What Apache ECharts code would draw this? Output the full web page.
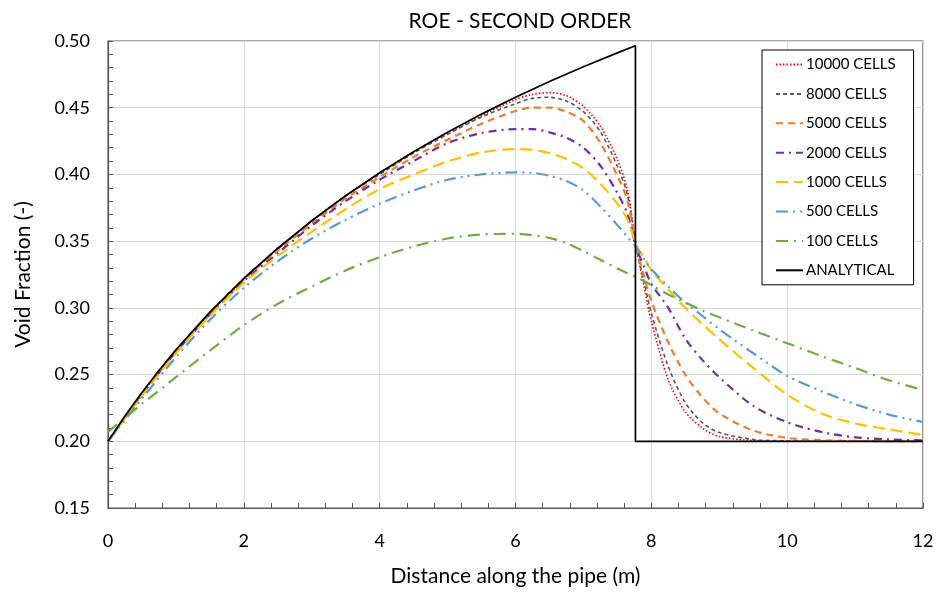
<!DOCTYPE html>
<html>
<head>
<meta charset="utf-8">
<script src="https://cdn.jsdelivr.net/npm/echarts@6/dist/echarts.min.js"></script>
<style>
html,body{margin:0;padding:0;background:#fff;}
#chart{width:939px;height:592px;}
</style>
</head>
<body>
<div id="chart"></div>
<script>
// Shared x positions (m) for the numerical solutions
var xNum = [0, 0.5, 1, 1.5, 2, 2.5, 3, 3.5, 4, 4.5, 5, 5.5, 6, 6.25, 6.5, 6.75, 7, 7.25, 7.5, 7.65, 7.78, 7.9, 8, 8.25, 8.5, 8.75, 9, 9.5, 10, 10.5, 11, 11.5, 12];

var cells10000 = [0.200, 0.236, 0.268, 0.296, 0.322, 0.344, 0.365, 0.384, 0.401, 0.417, 0.431, 0.444, 0.456, 0.460, 0.4613, 0.459, 0.451, 0.436, 0.411, 0.388, 0.345, 0.314, 0.290, 0.246, 0.222, 0.210, 0.2036, 0.2005, 0.200, 0.200, 0.200, 0.200, 0.200];
var cells8000  = [0.200, 0.236, 0.268, 0.296, 0.322, 0.344, 0.365, 0.384, 0.400, 0.416, 0.430, 0.443, 0.453, 0.457, 0.4578, 0.455, 0.447, 0.432, 0.406, 0.384, 0.345, 0.318, 0.296, 0.256, 0.229, 0.214, 0.2066, 0.2014, 0.2003, 0.200, 0.200, 0.200, 0.200];
var cells5000  = [0.200, 0.235, 0.267, 0.295, 0.321, 0.343, 0.363, 0.382, 0.398, 0.413, 0.426, 0.438, 0.4475, 0.450, 0.450, 0.447, 0.440, 0.4235, 0.399, 0.380, 0.345, 0.322, 0.305, 0.274, 0.250, 0.233, 0.221, 0.208, 0.2025, 0.2008, 0.2003, 0.200, 0.200];
var cells2000  = [0.200, 0.235, 0.267, 0.295, 0.320, 0.341, 0.3616, 0.380, 0.396, 0.410, 0.4235, 0.431, 0.434, 0.434, 0.4315, 0.4275, 0.420, 0.4065, 0.386, 0.370, 0.345, 0.330, 0.318, 0.300, 0.277, 0.261, 0.248, 0.2265, 0.2143, 0.207, 0.203, 0.2014, 0.2007];
var cells1000  = [0.200, 0.234, 0.266, 0.294, 0.3188, 0.339, 0.357, 0.374, 0.389, 0.400, 0.4097, 0.4165, 0.419, 0.4185, 0.416, 0.4115, 0.4045, 0.393, 0.378, 0.366, 0.347, 0.337, 0.328, 0.3138, 0.300, 0.288, 0.2764, 0.255, 0.235, 0.221, 0.2133, 0.209, 0.2046];
var cells500   = [0.200, 0.232, 0.263, 0.291, 0.315, 0.335, 0.352, 0.366, 0.378, 0.388, 0.396, 0.400, 0.4015, 0.4012, 0.399, 0.395, 0.388, 0.376, 0.362, 0.353, 0.345, 0.336, 0.329, 0.316, 0.304, 0.294, 0.284, 0.266, 0.249, 0.2377, 0.2278, 0.220, 0.2145];
var cells100   = [0.207, 0.228, 0.248, 0.268, 0.287, 0.303, 0.316, 0.328, 0.338, 0.346, 0.352, 0.355, 0.3555, 0.3545, 0.3525, 0.3485, 0.3425, 0.336, 0.3295, 0.326, 0.3228, 0.320, 0.317, 0.310, 0.304, 0.298, 0.293, 0.283, 0.2735, 0.264, 0.255, 0.2457, 0.2385];

// Analytical solution
var xAna = [0, 0.25, 0.5, 0.75, 1, 1.5, 2, 2.5, 3, 3.5, 4, 4.5, 5, 5.5, 6, 6.5, 7, 7.5, 7.766, 7.766, 12];
var yAna = [0.200, 0.2189, 0.2366, 0.2531, 0.2685, 0.2968, 0.3220, 0.3447, 0.3653, 0.3840, 0.4012, 0.4170, 0.4316, 0.4452, 0.4578, 0.4696, 0.4807, 0.4911, 0.4964, 0.200, 0.200];

var seriesNames = ['10000 CELLS', '8000 CELLS', '5000 CELLS', '2000 CELLS', '1000 CELLS', '500 CELLS', '100 CELLS', 'ANALYTICAL'];
var xTicks = [0, 2, 4, 6, 8, 10, 12];
var yTicks = [0.15, 0.20, 0.25, 0.30, 0.35, 0.40, 0.45, 0.50];

function pairs(xs, ys) { return xs.map(function (x, i) { return [x, ys[i]]; }); }

var styles = [
  { color: '#FF0000', width: 1.6, type: [1.5, 2] },
  { color: '#595959', width: 1.6, type: [4, 3] },
  { color: '#ED7D31', width: 2.2, type: [7, 5] },
  { color: '#7030A0', width: 2.2, type: [8, 5, 2, 5] },
  { color: '#FFC000', width: 2.2, type: [12, 6] },
  { color: '#5B9BD5', width: 2.2, type: [12, 5, 2, 5, 2, 5] },
  { color: '#70AD47', width: 2.2, type: [12, 6, 2, 6] },
  { color: '#000000', width: 1.7, type: 'solid' }
];
var dataSets = [cells10000, cells8000, cells5000, cells2000, cells1000, cells500, cells100];

var series = [];
for (var i = 0; i < 7; i++) {
  series.push({
    name: seriesNames[i], type: 'line', data: pairs(xNum, dataSets[i]),
    showSymbol: false, symbol: 'none', smooth: 0.3,
    lineStyle: styles[i], itemStyle: { color: styles[i].color }, z: 3
  });
}
series.push({
  name: seriesNames[7], type: 'line', data: pairs(xAna, yAna),
  showSymbol: false, symbol: 'none', smooth: false,
  lineStyle: styles[7], itemStyle: { color: '#000' }, z: 4
});

var FONT = 'Lato, "Open Sans", sans-serif';
var chart = echarts.init(document.getElementById('chart'), null, { renderer: 'canvas' });
chart.setOption({
  animation: false,
  backgroundColor: '#fff',
  textStyle: { fontFamily: FONT, color: '#000' },
  title: {
    text: 'ROE - SECOND ORDER', left: 515, top: 6, textAlign: 'center',
    textStyle: { fontFamily: FONT, fontSize: 21, fontWeight: 'normal', color: '#000' }
  },
  grid: { left: 108, right: 16, top: 41, bottom: 83, show: true, borderColor: '#595959', borderWidth: 1.2, containLabel: false },
  legend: {
    orient: 'vertical', left: 762, top: 50,
    data: seriesNames,
    backgroundColor: '#fff', borderColor: '#000', borderWidth: 1,
    padding: [7, 18, 7, 13], itemWidth: 27, itemHeight: 14, itemGap: 14.4,
    itemStyle: { opacity: 0 },
    textStyle: { fontFamily: FONT, fontSize: 15, color: '#000', padding: [0, 0, 0, -2] }
  },
  xAxis: {
    type: 'value', min: xTicks[0], max: xTicks[xTicks.length - 1], interval: 2,
    name: 'Distance along the pipe (m)', nameLocation: 'middle', nameGap: 58,
    nameTextStyle: { fontFamily: FONT, fontSize: 21, color: '#000' },
    axisLine: { show: true, lineStyle: { color: '#595959', width: 1.2 } },
    axisTick: { show: true, inside: true, length: 5, lineStyle: { color: '#595959' } },
    minorTick: { show: true, splitNumber: 5, length: 5, lineStyle: { color: '#595959' } },
    axisLabel: { fontFamily: FONT, fontSize: 18, color: '#000', margin: 24 },
    splitLine: { show: true, lineStyle: { color: '#D9D9D9', width: 1 } }
  },
  yAxis: {
    type: 'value', min: yTicks[0], max: yTicks[yTicks.length - 1], interval: 0.05,
    name: 'Void Fraction (-)', nameLocation: 'middle', nameGap: 74,
    nameTextStyle: { fontFamily: FONT, fontSize: 21, color: '#000' },
    axisLine: { show: true, lineStyle: { color: '#595959', width: 1.2 } },
    axisTick: { show: true, inside: true, length: 5, lineStyle: { color: '#595959' } },
    minorTick: { show: true, splitNumber: 5, length: 5, lineStyle: { color: '#595959' } },
    axisLabel: { fontFamily: FONT, fontSize: 18, color: '#000', margin: 18,
      formatter: function (v) { return v.toFixed(2); } },
    splitLine: { show: true, lineStyle: { color: '#D9D9D9', width: 1 } }
  },
  series: series
});
</script>
</body>
</html>
